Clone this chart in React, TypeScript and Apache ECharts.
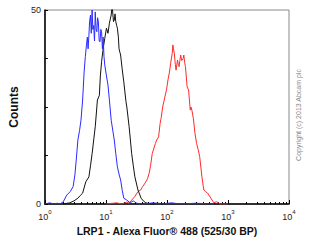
import React, { useEffect, useRef } from "react";
import * as echarts from "echarts";

const blueData: [number, number][] = [
  [1.0, 0], [1.2, 0.3], [1.4, 0], [1.6, 0.2], [1.77, 0], [2.0, 0.6], [2.28, 2.3], [2.6, 3.2], [2.9, 4.5],
  [3.1, 7.5], [3.26, 11.3], [3.47, 16.5], [3.7, 19], [3.9, 21.6], [4.15, 26.8], [4.39, 34], [4.6, 38],
  [4.8, 41], [4.96, 43], [5.1, 40], [5.26, 43.5], [5.4, 47], [5.58, 48.7], [5.75, 44], [5.94, 50],
  [6.1, 45], [6.29, 46], [6.5, 42], [6.68, 49.5], [6.9, 45], [7.1, 44.4], [7.3, 48], [7.52, 47],
  [7.75, 42], [8.0, 41.8], [8.25, 45], [8.49, 44.4], [8.75, 40], [9.0, 43], [9.3, 38], [9.57, 35.8],
  [10.2, 33], [10.8, 30.7], [11.4, 26.8], [12.2, 21.6], [13.7, 16.5], [14.5, 13], [15.4, 9.6],
  [16.5, 7.5], [17.4, 6.2], [18.5, 3.5], [19.6, 1.5], [22.0, 1], [24.9, 0.3], [28, 0.8], [32, 0.2],
  [40, 0], [60, 0.3], [80, 0], [120, 0.3], [160, 0], [300, 0.2], [600, 0],
];

const blackData: [number, number][] = [
  [2.0, 0], [2.54, 0.3], [3.0, 0.8], [3.47, 1.5], [3.8, 2.2], [4.15, 2.8], [4.67, 5.7], [5.26, 7],
  [5.6, 10], [5.94, 13], [6.3, 16.5], [6.68, 19.9], [7.25, 26.8], [7.8, 28], [8.1, 33], [8.49, 36.7],
  [9.0, 40], [9.57, 42.7], [10.2, 45.3], [10.8, 44], [11.4, 46.6], [12.2, 48.7], [12.6, 51], [12.9, 49.5],
  [13.3, 47], [13.7, 47.4], [14.1, 49], [14.5, 47], [15.0, 46], [15.4, 45.3], [16.0, 43], [16.4, 40],
  [17.0, 39], [17.4, 38.4], [18.4, 35], [19.6, 31.5], [21.3, 26.4], [22.0, 25], [24.0, 19.9], [26.4, 13],
  [28, 10], [29.8, 7], [33.5, 3.6], [37.7, 1.5], [41, 0.8], [45.1, 0.3], [55, 0], [70, 0.2], [90, 0],
];

const redData: [number, number][] = [
  [10, 0], [15, 0.3], [18, 0], [22, 0.5], [24, 0.2], [26.4, 1], [30, 2], [33.5, 3.2], [37, 3.6],
  [40.1, 4.5], [45.1, 5.7], [48, 6.5], [51.0, 7.9], [54, 10], [57.4, 13], [64.6, 15.6], [68, 16.5],
  [72.9, 17.3], [77.3, 20.8], [80, 22], [85.1, 25], [92.4, 27.6], [98.2, 29.4], [104, 32], [110, 34],
  [115, 36.3], [122, 38.8], [125, 41], [128, 40], [132, 38.8], [137, 36], [141, 34.5], [149, 37.1],
  [153, 36], [158, 35.4], [163, 37], [168, 38.4], [174, 37], [179, 37.1], [184, 37.5], [189, 38.4],
  [195, 36.5], [201, 35.4], [214, 30.2], [226, 29.4], [241, 24.2], [248, 25], [256, 24.2], [271, 22],
  [288, 18.2], [306, 15.6], [325, 14], [344, 12.2], [374, 7], [402, 3.6], [430, 3.2], [464, 2.8],
  [524, 1.5], [589, 0.3], [650, 0.6], [750, 0], [1000, 0],
];

const xMin = 1;
const xMax = 10000;
const yMin = 0;
const yMax = 50;
const yInterval = 12.5;
const yLabelValues = [0, 50];
const minorTickValues = [
  2, 3, 4, 5, 6, 7, 8, 9,
  20, 30, 40, 50, 60, 70, 80, 90,
  200, 300, 400, 500, 600, 700, 800, 900,
  2000, 3000, 4000, 5000, 6000, 7000, 8000, 9000,
];

const xTitle = "LRP1 - Alexa Fluor® 488 (525/30 BP)";
const yTitle = "Counts";
const copyright = "Copyright (c) 2013 Abcam plc";

export default function App() {
  const ref = useRef<HTMLDivElement>(null);
  useEffect(() => {
    document.body.style.margin = "0";
    const chart = echarts.init(ref.current!, null, { renderer: "svg" });
    const font = "Liberation Sans, Arial, sans-serif";
    chart.setOption({
      animation: false,
      backgroundColor: "#fff",
      textStyle: { fontFamily: font },
      grid: {
        left: 32, right: 21, top: 10, bottom: 39,
        show: true, borderColor: "#888", borderWidth: 1,
      },
      xAxis: [
        {
          type: "log",
          min: xMin,
          max: xMax,
          logBase: 10,
          name: xTitle,
          nameLocation: "middle",
          nameGap: 16,
          nameTextStyle: { fontWeight: "bold", fontSize: 10.5, color: "#111", fontFamily: font },
          axisLine: { show: true, lineStyle: { color: "#000", width: 1.5 } },
          axisTick: { show: true, inside: true, length: 4, lineStyle: { color: "#000" } },
          splitLine: { show: false },
          minorTick: { show: false },
          axisLabel: {
            margin: 5,
            formatter: (v: number) => `{b|10}{s|${Math.round(Math.log10(v))}}`,
            rich: {
              b: { fontSize: 9, color: "#222", fontFamily: font, lineHeight: 12, verticalAlign: "bottom" },
              s: { fontSize: 6, color: "#222", fontFamily: font, lineHeight: 12, verticalAlign: "top" },
            },
          },
        },
        {
          type: "log",
          min: xMin,
          max: xMax,
          logBase: 10,
          position: "bottom",
          axisLine: { show: false },
          axisTick: { show: true, inside: true, length: 2, customValues: minorTickValues, lineStyle: { color: "#000" } },
          axisLabel: { show: false },
          splitLine: { show: false },
        },
      ],
      yAxis: {
        type: "value",
        min: yMin,
        max: yMax,
        interval: yInterval,
        name: yTitle,
        nameLocation: "middle",
        nameGap: 14,
        nameTextStyle: { fontWeight: "bold", fontSize: 12, color: "#111", fontFamily: font },
        axisLine: { show: true, lineStyle: { color: "#000", width: 1.5 } },
        axisTick: { show: true, inside: true, length: 3, lineStyle: { color: "#000" } },
        splitLine: { show: false },
        axisLabel: {
          fontSize: 9,
          color: "#222",
          margin: 4,
          formatter: (v: number) => (yLabelValues.includes(v) ? String(v) : ""),
        },
      },
      graphic: [
        {
          type: "text",
          x: 298,
          y: 115,
          rotation: Math.PI / 2,
          style: {
            text: copyright,
            fontSize: 7,
            fill: "#888",
            fontFamily: font,
            align: "center",
            verticalAlign: "middle",
          },
        },
      ],
      series: [
        {
          type: "line", data: redData, showSymbol: false, symbol: "none",
          lineStyle: { color: "#ff2a2a", width: 1 }, clip: true,
        },
        {
          type: "line", data: blackData, showSymbol: false, symbol: "none",
          lineStyle: { color: "#111", width: 1 }, clip: true,
        },
        {
          type: "line", data: blueData, showSymbol: false, symbol: "none",
          lineStyle: { color: "#2a2aff", width: 1 }, clip: true,
        },
      ],
    });
    return () => chart.dispose();
  }, []);
  return <div ref={ref} style={{ width: 310, height: 243 }} />;
}
